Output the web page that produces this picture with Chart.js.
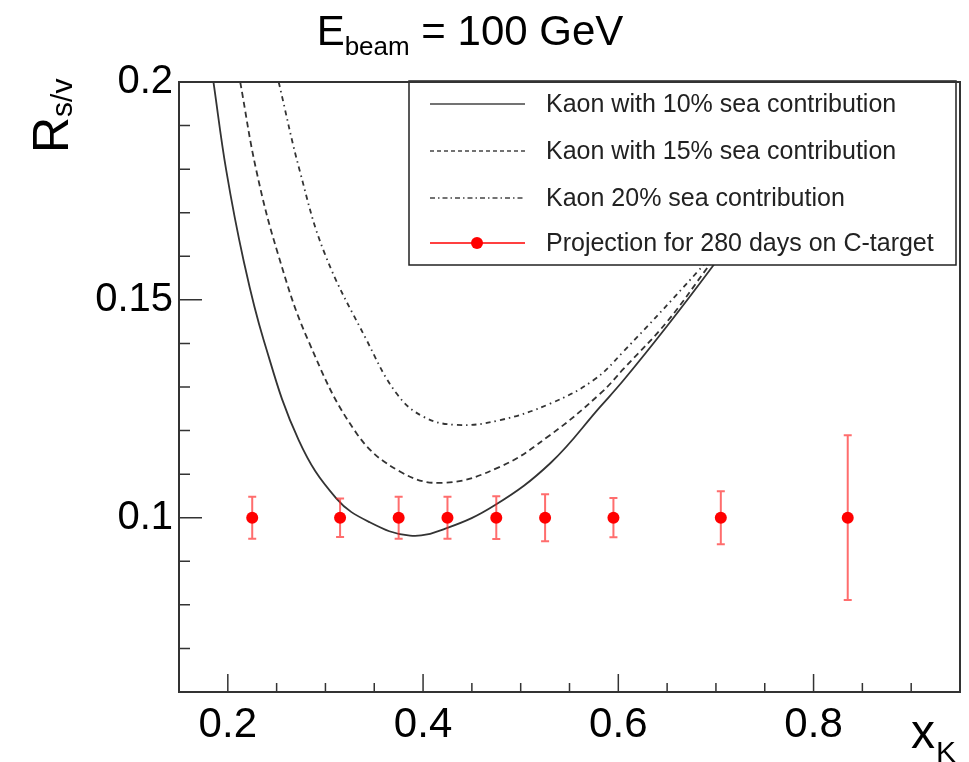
<!DOCTYPE html>
<html>
<head>
<meta charset="utf-8">
<script src="https://cdn.jsdelivr.net/npm/chart.js@4.4.1/dist/chart.umd.min.js"></script>
<style>
  html, body { margin: 0; padding: 0; background: #fff; }
  canvas { display: block; }
</style>
</head>
<body>
<canvas id="myChart" width="969" height="762"></canvas>
<script>
// curves
var x10 = [0.1853, 0.1984, 0.2161, 0.2367, 0.2726, 0.3113, 0.345, 0.3866, 0.4242, 0.4738, 0.5303, 0.5816, 0.6055, 0.650, 0.6963, 0.73];
var y10 = [0.200, 0.1797, 0.1591, 0.1408, 0.1178, 0.1044, 0.0990, 0.0959, 0.0976, 0.1029, 0.1125, 0.1255, 0.1316, 0.1440, 0.1576, 0.168];

var x15 = [0.2127, 0.2292, 0.2513, 0.2821, 0.3318, 0.3763, 0.4207, 0.479, 0.5303, 0.5816, 0.6055, 0.650, 0.691, 0.72];
var y15 = [0.200, 0.1797, 0.1606, 0.1408, 0.1194, 0.1106, 0.1080, 0.1117, 0.1190, 0.1285, 0.1342, 0.1450, 0.1573, 0.166];

var x20 = [0.2521, 0.2736, 0.2993, 0.3421, 0.3729, 0.4002, 0.4345, 0.479, 0.5303, 0.5748, 0.6055, 0.6809, 0.71];
var y20 = [0.200, 0.1797, 0.1606, 0.1408, 0.1285, 0.1232, 0.1213, 0.1224, 0.1262, 0.1316, 0.1382, 0.1564, 0.164];

// projected points
var xProj = [0.225, 0.315, 0.375, 0.425, 0.475, 0.525, 0.595, 0.705, 0.835];
var yProj = [0.1, 0.1, 0.1, 0.1, 0.1, 0.1, 0.1, 0.1, 0.1];
var errProj = [0.0048, 0.0044, 0.0048, 0.0048, 0.0049, 0.0054, 0.0045, 0.0061, 0.0189];

var seriesNames = [
    'Kaon with 10% sea contribution',
    'Kaon with 15% sea contribution',
    'Kaon 20% sea contribution',
    'Projection for 280 days on C-target'
];

var xTicks = [0.2, 0.4, 0.6, 0.8];
var yTicks = [0.1, 0.15, 0.2];

var FONT = '"Liberation Sans", Arial, Helvetica, sans-serif';
var LINE = '#333';
var RED = '#ff0000';

function pts(xs, ys) {
    return xs.map(function (x, i) { return {x: x, y: ys[i]}; });
}

var frame = {
    id: 'frame',
    beforeDatasetDraw: function (chart, args) {
        if (args.index !== 3) return;
        var c = chart.ctx, xs = chart.scales.x, ys = chart.scales.y;
        c.save();
        c.strokeStyle = 'rgba(255,30,30,0.65)';
        c.lineWidth = 2;
        xProj.forEach(function (x, i) {
            var px = xs.getPixelForValue(x);
            var top = ys.getPixelForValue(yProj[i] + errProj[i]);
            var bot = ys.getPixelForValue(yProj[i] - errProj[i]);
            c.beginPath();
            c.moveTo(px, top); c.lineTo(px, bot);
            c.moveTo(px - 4, top); c.lineTo(px + 4, top);
            c.moveTo(px - 4, bot); c.lineTo(px + 4, bot);
            c.stroke();
        });
        c.restore();
    },
    afterDraw: function (chart) {
        var c = chart.ctx, a = chart.chartArea, xs = chart.scales.x, ys = chart.scales.y;
        c.save();
        // ticks inside the frame
        c.strokeStyle = LINE;
        c.lineWidth = 1.5;
        c.beginPath();
        for (var k = 3; k <= 19; k++) {
            var v = k * 0.05;
            var px = xs.getPixelForValue(v);
            var len = (k % 4 === 0) ? 18 : 9;
            c.moveTo(px, a.bottom); c.lineTo(px, a.bottom - len);
        }
        for (var j = 6; j <= 20; j++) {
            var py = ys.getPixelForValue(j * 0.01);
            var l2 = (j % 5 === 0) ? 23 : 11;
            c.moveTo(a.left, py); c.lineTo(a.left + l2, py);
        }
        c.stroke();

        // legend box
        var bx = 409, by = 81, bw = 547, bh = 184;
        c.fillStyle = '#fff';
        c.fillRect(bx, by, bw, bh);
        c.lineWidth = 1.5;
        c.strokeStyle = '#222';
        c.strokeRect(bx, by, bw, bh);
        var rows = [104, 151, 198, 243];
        var dashes = [[], [4, 3], [5, 3, 1.5, 3], []];
        for (var r = 0; r < 4; r++) {
            c.beginPath();
            c.setLineDash(dashes[r]);
            c.strokeStyle = r === 3 ? RED : '#444';
            c.lineWidth = 1.5;
            c.moveTo(430, rows[r]); c.lineTo(525, rows[r]);
            c.stroke();
            c.setLineDash([]);
            if (r === 3) {
                c.fillStyle = RED;
                c.beginPath();
                c.arc(477, rows[r], 6, 0, Math.PI * 2);
                c.fill();
            }
            c.fillStyle = '#222';
            c.font = '25px ' + FONT;
            c.textBaseline = 'middle';
            c.textAlign = 'left';
            c.fillText(seriesNames[r], 546, rows[r] + 1);
        }

        // frame
        c.strokeStyle = LINE;
        c.lineWidth = 2;
        c.strokeRect(a.left, a.top, a.right - a.left, a.bottom - a.top);

        // title E_beam = 100 GeV
        c.fillStyle = '#000';
        c.textBaseline = 'alphabetic';
        c.textAlign = 'left';
        c.font = '42px ' + FONT;
        var w1 = c.measureText('E').width;
        c.font = '26px ' + FONT;
        var w2 = c.measureText('beam').width;
        c.font = '42px ' + FONT;
        var w3 = c.measureText(' = 100 GeV').width;
        var tx = 470 - (w1 + w2 + w3) / 2;
        c.fillText('E', tx, 45);
        c.font = '26px ' + FONT;
        c.fillText('beam', tx + w1, 55);
        c.font = '42px ' + FONT;
        c.fillText(' = 100 GeV', tx + w1 + w2, 45);

        // y title R_s/v
        c.save();
        c.translate(68, 153);
        c.rotate(-Math.PI / 2);
        c.font = '50px ' + FONT;
        c.fillText('R', 0, 0);
        var wr = c.measureText('R').width;
        c.font = '30px ' + FONT;
        c.fillText('s/v', wr, 4);
        c.restore();

        // x title x_K
        c.font = '48px ' + FONT;
        c.fillText('x', 911, 748);
        var wx = c.measureText('x').width;
        c.font = '30px ' + FONT;
        c.fillText('K', 911 + wx + 1, 762);
        c.restore();
    }
};

function curve(label, xs, ys, dash) {
    return {
        label: label,
        data: pts(xs, ys),
        showLine: true,
        borderColor: LINE,
        borderWidth: 1.8,
        borderDash: dash,
        pointRadius: 0,
        tension: 0.4,
        order: 1
    };
}

var ctx = document.getElementById('myChart');
var myChart = new Chart(ctx, {
    type: 'scatter',
    data: {
        datasets: [
            curve(seriesNames[0], x10, y10, []),
            curve(seriesNames[1], x15, y15, [6, 4]),
            curve(seriesNames[2], x20, y20, [5, 4, 1.5, 4]),
            {
                label: seriesNames[3],
                data: pts(xProj, yProj),
                showLine: false,
                pointRadius: 6,
                pointBackgroundColor: RED,
                pointBorderColor: RED,
                pointBorderWidth: 0,
                order: 0
            }
        ]
    },
    options: {
        responsive: false,
        animation: false,
        devicePixelRatio: 1,
        layout: { padding: { top: 82, right: 9, left: 0, bottom: 0 } },
        plugins: {
            legend: { display: false },
            tooltip: { enabled: false }
        },
        scales: {
            x: {
                type: 'linear',
                min: 0.15,
                max: 0.95,
                afterBuildTicks: function (s) { s.ticks = xTicks.map(function (v) { return {value: v}; }); },
                afterFit: function (s) { s.height = 70; },
                grid: { display: false, drawTicks: false },
                border: { display: false },
                ticks: {
                    padding: 8,
                    maxRotation: 0,
                    autoSkip: false,
                    color: '#000',
                    font: { family: FONT, size: 42 },
                    callback: function (v) { return String(v); }
                }
            },
            y: {
                type: 'linear',
                min: 0.06,
                max: 0.2,
                afterBuildTicks: function (s) { s.ticks = yTicks.map(function (v) { return {value: v}; }); },
                afterFit: function (s) { s.width = 179; },
                grid: { display: false, drawTicks: false },
                border: { display: false },
                ticks: {
                    padding: 6,
                    autoSkip: false,
                    color: '#000',
                    font: { family: FONT, size: 40 },
                    callback: function (v) { return String(v); }
                }
            }
        }
    },
    plugins: [frame]
});
</script>
</body>
</html>
